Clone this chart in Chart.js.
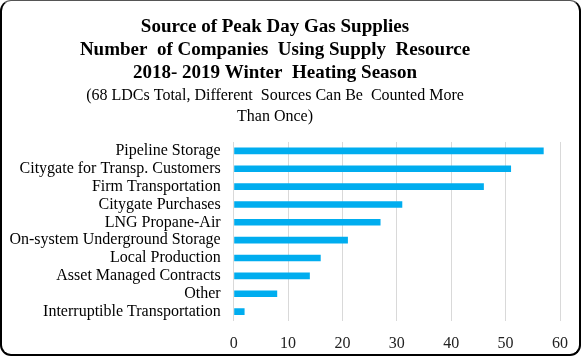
<!DOCTYPE html>
<html>
<head>
<meta charset="utf-8">
<script src="https://cdn.jsdelivr.net/npm/chart.js@4/dist/chart.umd.min.js"></script>
<style>
  html, body { margin: 0; padding: 0; background: #fff; }
  #wrap { position: relative; width: 582px; height: 357px; overflow: hidden; }
  #frame { position: absolute; left: 0; top: 0; width: 581px; height: 356px; box-sizing: border-box;
           border: 2px solid #000; border-top: 1px solid #555; border-radius: 11px; pointer-events: none; }
  canvas { position: absolute; left: 0; top: 0; }
</style>
</head>
<body>
<div id="wrap">
  <canvas id="c" width="582" height="357"></canvas>
  <div id="frame"></div>
</div>
<script>
const categories = [
  "Pipeline Storage",
  "Citygate for Transp. Customers",
  "Firm Transportation",
  "Citygate Purchases",
  "LNG Propane-Air",
  "On-system Underground Storage",
  "Local Production",
  "Asset Managed Contracts",
  "Other",
  "Interruptible Transportation"
];
const companies = [57, 51, 46, 31, 27, 21, 16, 14, 8, 2];
const titleLines = [
  "Source of Peak Day Gas Supplies",
  "Number  of Companies  Using Supply  Resource",
  "2018- 2019 Winter  Heating Season"
];
const subtitleLines = [
  "(68 LDCs Total, Different  Sources Can Be  Counted More",
  "Than Once)"
];
const xTicksMax = 60;
const xTickStep = 10;

new Chart(document.getElementById('c'), {
  type: 'bar',
  data: {
    labels: categories,
    datasets: [{
      data: companies,
      backgroundColor: '#00adef',
      borderWidth: 0,
      barPercentage: 0.37,
      categoryPercentage: 1.0
    }]
  },
  options: {
    indexAxis: 'y',
    responsive: false,
    animation: false,
    devicePixelRatio: 1,
    layout: { padding: { left: -10, right: 22, top: 0, bottom: 0 } },
    plugins: {
      legend: { display: false },
      tooltip: { enabled: false },
      title: {
        display: true,
        text: titleLines,
        color: '#000',
        font: { family: 'Liberation Serif', size: 19, weight: 'bold', lineHeight: 1.22 },
        padding: { top: 15.5, bottom: 0 }
      },
      subtitle: {
        display: true,
        text: subtitleLines,
        color: '#000',
        font: { family: 'Liberation Serif', size: 16, weight: 'normal', lineHeight: 1.31 },
        padding: { top: 0, bottom: 15 }
      }
    },
    scales: {
      x: {
        min: 0,
        max: xTicksMax,
        afterFit: (scale) => { scale.height = 36.5; },
        ticks: { stepSize: xTickStep, color: '#222', font: { family: 'Liberation Serif', size: 16 }, padding: 13.5 },
        grid: { color: '#d9d9d9', lineWidth: 1, drawTicks: false },
        border: { display: false }
      },
      y: {
        afterFit: (scale) => { scale.width = 243.7; },
        ticks: { color: '#000', font: { family: 'Liberation Serif', size: 16 }, padding: 13, autoSkip: false },
        grid: { display: false, drawTicks: false },
        border: { display: false }
      }
    }
  }
});
</script>
</body>
</html>
